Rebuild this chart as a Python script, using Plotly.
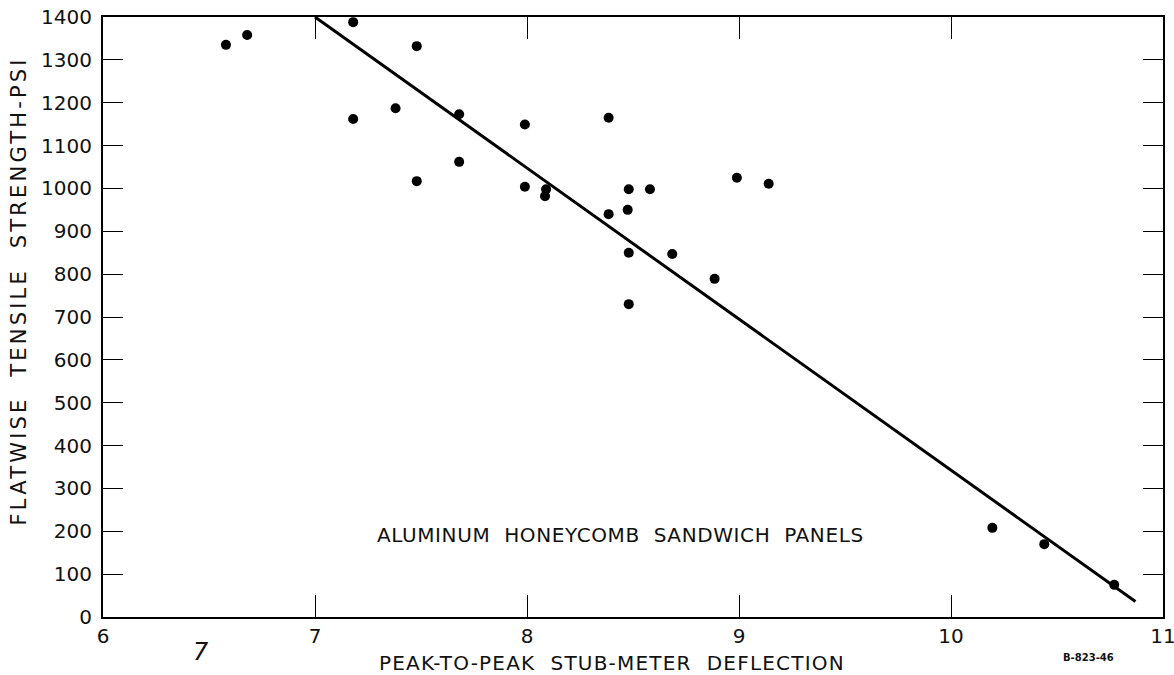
import plotly.graph_objects as go

# Data
deflection = [6.58, 6.68, 7.18, 7.18, 7.38, 7.48, 7.48, 7.68, 7.68, 7.99, 7.99,
              8.09, 8.085, 8.385, 8.385, 8.48, 8.475, 8.48, 8.48, 8.58, 8.685,
              8.885, 8.99, 9.14, 10.195, 10.44, 10.77]
strength = [1335, 1358, 1388, 1162, 1187, 1332, 1017, 1173, 1062, 1149, 1004,
            998, 982, 1165, 940, 998, 950, 850, 730, 998, 847,
            789, 1025, 1011, 208, 170, 75]

fit_x = [7.0, 10.87]
fit_y = [1400, 36]

x_ticks = [6, 7, 8, 9, 10, 11]
y_ticks = list(range(0, 1401, 100))

x_title = "PEAK-TO-PEAK  STUB-METER  DEFLECTION"
y_title = "FLATWISE  TENSILE  STRENGTH-PSI"
note = "ALUMINUM  HONEYCOMB  SANDWICH  PANELS"

FONT = "DejaVu Sans"


def spaced(text, px):
    return f'<span style="letter-spacing:{px}px">{text}</span>'


fig = go.Figure()
fig.add_trace(go.Scatter(x=fit_x, y=fit_y, mode="lines",
                         line=dict(color="black", width=3),
                         hoverinfo="skip", showlegend=False, cliponaxis=False))
fig.add_trace(go.Scatter(x=deflection, y=strength, mode="markers",
                         marker=dict(color="black", size=10),
                         showlegend=False, cliponaxis=False))

fig.update_layout(
    width=1174, height=675,
    margin=dict(l=103, r=11, t=17, b=58, autoexpand=False),
    paper_bgcolor="white", plot_bgcolor="white",
    font=dict(family=FONT, color="#111111"),
    xaxis=dict(range=[6, 11], tickvals=x_ticks, ticktext=[str(v) for v in x_ticks],
               showgrid=False, zeroline=False, showline=True, linecolor="black",
               linewidth=2.2, mirror="ticks", ticks="inside", ticklen=22,
               tickwidth=1.3, tickcolor="black", automargin=False,
               ticklabelstandoff=0, ticklabeloverflow="allow",
               tickfont=dict(size=20, family=FONT)),
    yaxis=dict(range=[0, 1400], tickvals=y_ticks, ticktext=[str(v) for v in y_ticks],
               showgrid=False, zeroline=False, showline=True, linecolor="black",
               linewidth=2.2, mirror="ticks", ticks="inside", ticklen=20,
               tickwidth=1.3, tickcolor="black", ticklabelstandoff=5,
               automargin=False, ticklabeloverflow="allow",
               tickfont=dict(size=20, family=FONT)),
    annotations=[
        dict(text=spaced(x_title, 1.2), xref="paper", yref="paper",
             x=0.48, y=-0.077, xanchor="center", yanchor="middle", showarrow=False,
             font=dict(size=20, family=FONT)),
        dict(text=spaced(y_title, 3.2), xref="paper", yref="paper",
             x=-0.079, y=0.543, xanchor="center", yanchor="middle", textangle=-90,
             showarrow=False, font=dict(size=21, family=FONT)),
        dict(text=spaced(note, 0.6), xref="paper", yref="paper",
             x=0.488, y=0.137, xanchor="center", yanchor="middle", showarrow=False,
             font=dict(size=20, family=FONT)),
        dict(text="B-823-46", xref="paper", yref="paper",
             x=0.93, y=-0.067, xanchor="center", yanchor="middle", showarrow=False,
             font=dict(size=10, family=FONT, weight="bold")),
        dict(text="7", xref="paper", yref="paper",
             x=0.092, y=-0.058, xanchor="center", yanchor="middle", showarrow=False,
             font=dict(size=24, family=FONT, style="italic")),
    ],
)

fig.write_html("out.html", config={"displayModeBar": False},
               post_script="document.body.style.margin='0';")
